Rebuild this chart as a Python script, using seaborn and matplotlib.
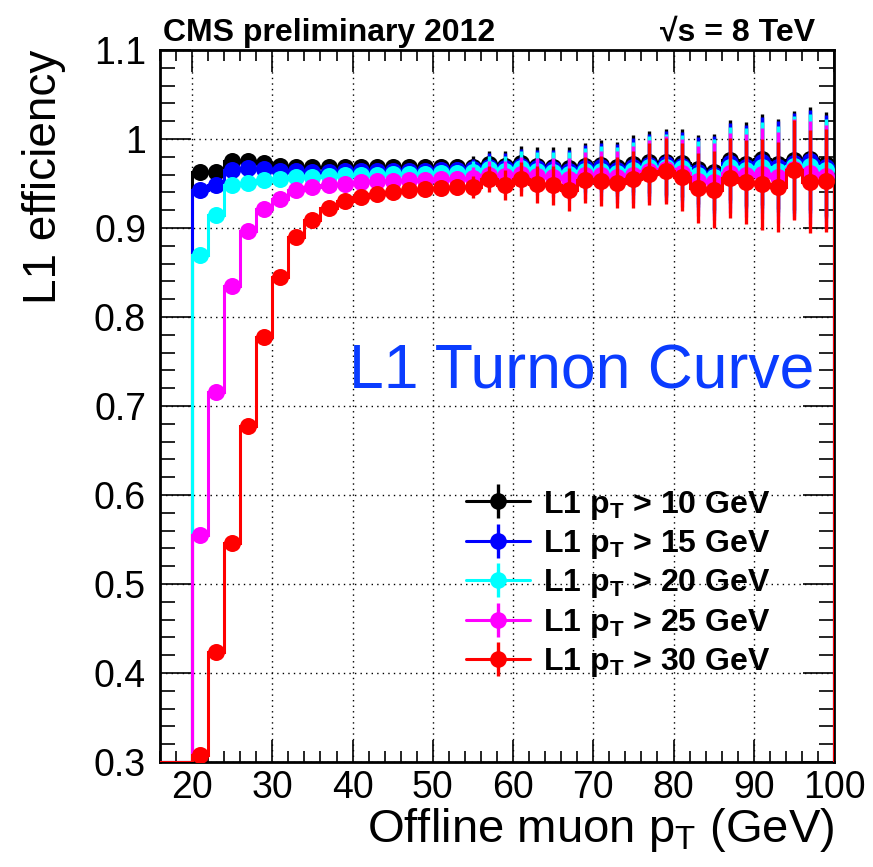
import numpy as np
import matplotlib
matplotlib.use("Agg")
import matplotlib.pyplot as plt
from matplotlib.lines import Line2D
from matplotlib.legend_handler import HandlerTuple
from matplotlib.ticker import MultipleLocator, FuncFormatter
import seaborn as sns

sns.set_theme(style="ticks")
plt.rcParams["font.family"] = ["Liberation Sans", "DejaVu Sans"]
plt.rcParams["mathtext.fontset"] = "custom"
plt.rcParams["mathtext.rm"] = "Liberation Sans"
plt.rcParams["mathtext.it"] = "Liberation Sans"
plt.rcParams["mathtext.bf"] = "Liberation Sans:bold"
plt.rcParams["text.color"] = "black"
plt.rcParams["axes.labelcolor"] = "black"
plt.rcParams["xtick.color"] = "black"
plt.rcParams["ytick.color"] = "black"

# offline muon pT bins (2 GeV wide, 16 -> 100)
edges = np.arange(16, 101, 2)
centers = [17, 19, 21, 23, 25, 27, 29, 31, 33, 35, 37, 39, 41, 43, 45, 47, 49,
           51, 53, 55, 57, 59, 61, 63, 65, 67, 69, 71, 73, 75, 77, 79, 81, 83,
           85, 87, 89, 91, 93, 95, 97, 99]

eff_10 = [0, 0, 0.963, 0.963, 0.975, 0.975, 0.973, 0.970, 0.969, 0.968, 0.968,
          0.968, 0.968, 0.968, 0.968, 0.968, 0.968, 0.968, 0.969, 0.969, 0.972,
          0.970, 0.973, 0.970, 0.969, 0.967, 0.970, 0.971, 0.968, 0.972, 0.974,
          0.974, 0.973, 0.966, 0.963, 0.976, 0.972, 0.977, 0.972, 0.976, 0.978,
          0.972]
eff_15 = [0, 0, 0.943, 0.948, 0.965, 0.967, 0.966, 0.964, 0.964, 0.963, 0.963,
          0.964, 0.964, 0.964, 0.964, 0.964, 0.964, 0.965, 0.965, 0.966, 0.969,
          0.967, 0.970, 0.967, 0.966, 0.964, 0.967, 0.968, 0.965, 0.969, 0.971,
          0.972, 0.970, 0.963, 0.960, 0.973, 0.969, 0.974, 0.969, 0.973, 0.975,
          0.969]
eff_20 = [0, 0, 0.870, 0.915, 0.948, 0.951, 0.954, 0.955, 0.957, 0.957, 0.958,
          0.959, 0.960, 0.960, 0.961, 0.961, 0.961, 0.962, 0.962, 0.963, 0.966,
          0.964, 0.967, 0.964, 0.963, 0.961, 0.964, 0.964, 0.962, 0.965, 0.968,
          0.969, 0.967, 0.959, 0.957, 0.968, 0.965, 0.968, 0.964, 0.970, 0.970,
          0.965]
eff_25 = [0, 0, 0.555, 0.716, 0.835, 0.897, 0.921, 0.933, 0.943, 0.946, 0.948,
          0.950, 0.952, 0.953, 0.953, 0.954, 0.954, 0.955, 0.955, 0.956, 0.960,
          0.958, 0.961, 0.958, 0.957, 0.955, 0.959, 0.959, 0.957, 0.960, 0.964,
          0.966, 0.962, 0.953, 0.952, 0.962, 0.959, 0.961, 0.957, 0.966, 0.962,
          0.958]
eff_30 = [0, 0, 0.308, 0.424, 0.546, 0.678, 0.778, 0.845, 0.890, 0.909, 0.922,
          0.930, 0.935, 0.938, 0.940, 0.943, 0.944, 0.945, 0.946, 0.946, 0.955,
          0.948, 0.955, 0.949, 0.948, 0.943, 0.954, 0.953, 0.951, 0.955, 0.961,
          0.964, 0.957, 0.945, 0.943, 0.956, 0.952, 0.949, 0.946, 0.965, 0.952,
          0.953]
# statistical uncertainty per bin (same offline denominator for all thresholds)
err = [0, 0, 0.002, 0.002, 0.002, 0.002, 0.002, 0.002, 0.002, 0.002, 0.002,
       0.002, 0.003, 0.003, 0.004, 0.005, 0.006, 0.007, 0.009, 0.012, 0.015,
       0.017, 0.019, 0.021, 0.022, 0.024, 0.026, 0.028, 0.029, 0.032, 0.035,
       0.037, 0.038, 0.039, 0.043, 0.045, 0.047, 0.051, 0.051, 0.056, 0.058,
       0.058]

series = [("10", eff_10, "black"), ("15", eff_15, "blue"), ("20", eff_20, "cyan"),
          ("25", eff_25, "magenta"), ("30", eff_30, "red")]

fig = plt.figure(figsize=(8.73, 8.67), dpi=100)
ax = fig.add_axes([160 / 873, 1 - 762 / 867, 674 / 873, 712 / 867])

handles, labels = [], []
for i, (thr, vals, col) in enumerate(series):
    z = 3 + i
    # histogram line, values under the frame drawn on the frame like ROOT
    ax.stairs(np.clip(vals, 0.3, None), edges, color=col, lw=2.2, zorder=z)
    ax.errorbar(centers, vals, yerr=err, fmt="none", ecolor=col, elinewidth=2.4,
                capsize=0, zorder=z + 0.1)
    sns.scatterplot(x=centers, y=vals, color=col, s=150, linewidth=0,
                    zorder=z + 0.2, ax=ax, legend=False)
    h1 = Line2D([], [], color=col, lw=2.2, marker="o", ms=12, mew=0)
    h2 = Line2D([], [], color=col, lw=0, marker="|", ms=24, mew=2.4)
    handles.append((h1, h2))
    labels.append(r"L1 $\mathbf{p_{T}}$ > " + thr + " GeV")

ax.set_xlim(16, 100)
ax.set_ylim(0.3, 1.1)
ax.xaxis.set_major_locator(MultipleLocator(10))
ax.xaxis.set_minor_locator(MultipleLocator(2))
ax.yaxis.set_major_locator(MultipleLocator(0.1))
ax.yaxis.set_minor_locator(MultipleLocator(0.02))
ax.yaxis.set_major_formatter(FuncFormatter(lambda v, p: f"{v:g}"))
ax.grid(True, which="major", color="black", linestyle=(0, (1, 3)), linewidth=1)
ax.tick_params(which="both", direction="in", top=True, right=True,
               color="black", width=1.2, labelsize=27, labelcolor="black")
ax.tick_params(axis="x", which="major", length=16, pad=6)
ax.tick_params(axis="x", which="minor", length=8)
ax.tick_params(axis="y", which="major", length=22, pad=10)
ax.tick_params(axis="y", which="minor", length=11)
for s in ax.spines.values():
    s.set_linewidth(2)
    s.set_color("black")
ax.set_facecolor("white")

ax.set_xlabel(r"Offline muon $\mathrm{p_{T}}$ (GeV)", fontsize=34, loc="right")
ax.xaxis.set_label_coords(1.0, -0.062)
ax.set_ylabel("L1 efficiency", fontsize=33, loc="top")
ax.yaxis.set_label_coords(-0.14, 1.0)

ax.text(0.28, 0.525, "L1 Turnon Curve", transform=ax.transAxes, fontsize=45,
        color="#0a3cff")

fig.text(163 / 873, 1 - 41 / 867, "CMS preliminary 2012", fontsize=23,
         fontweight="bold", va="baseline")
fig.text(815 / 873, 1 - 41 / 867, "\u221as = 8 TeV", fontsize=23,
         fontweight="bold", va="baseline", ha="right")

ax.legend(handles, labels, handler_map={tuple: HandlerTuple(ndivide=1, pad=0)},
          loc="upper left", bbox_to_anchor=(0.454, 0.384), frameon=False,
          prop={"weight": "bold", "size": 23}, handlelength=2.0,
          handletextpad=0.4, labelspacing=0.2, borderpad=0, borderaxespad=0)

fig.savefig("out.png", dpi=100)
